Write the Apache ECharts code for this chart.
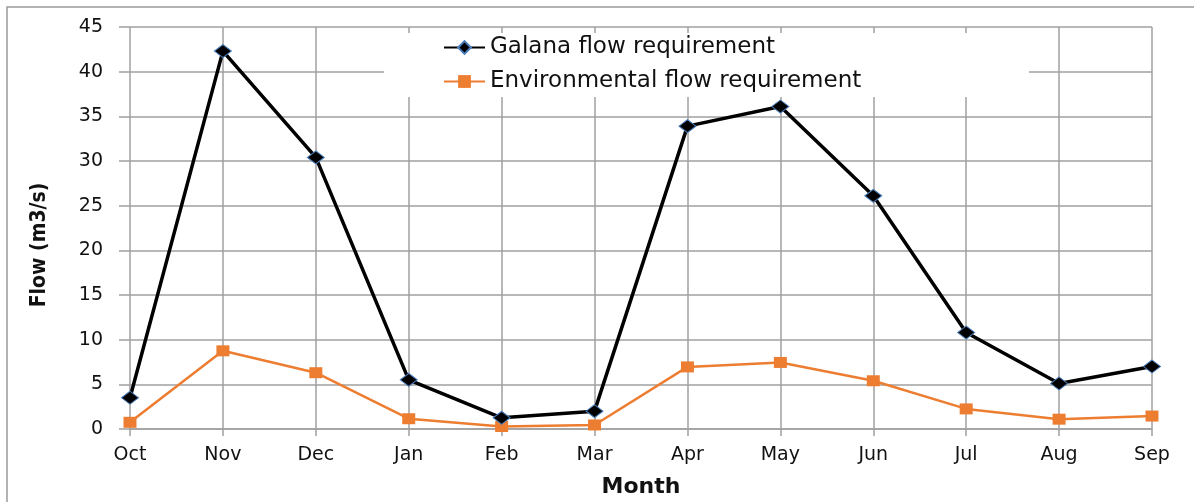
<!DOCTYPE html>
<html>
<head>
<meta charset="utf-8">
<script src="https://cdn.jsdelivr.net/npm/echarts@6/dist/echarts.min.js"></script>
<style>
  html, body { margin: 0; padding: 0; background: #fff; }
  #chart { width: 1194px; height: 502px; }
</style>
</head>
<body>
<div id="chart"></div>
<script>
 // 数据
 var months = ['Oct','Nov','Dec','Jan','Feb','Mar','Apr','May','Jun','Jul','Aug','Sep'];
 var galanaFlow = [3.5,42.3,30.4,5.5,1.25,2.0,33.9,36.1,26.1,10.8,5.1,7.0];
 var envFlow = [0.75,8.75,6.3,1.15,0.28,0.45,6.95,7.45,5.4,2.25,1.1,1.45];
 var yTicks = [0,5,10,15,20,25,30,35,40,45];

 var myCharts = echarts.init(document.getElementById('chart'));
 var option = {
     backgroundColor:'#fff',
     animation:false,
     graphic:[
         // 外框
         {type:'polyline', z:0, silent:true,
          shape:{points:[[7,502],[7,7],[1194,7]]},
          style:{stroke:'#9a9a9a', lineWidth:1.5, fill:null}},
         // 图例背景遮住网格线
         {type:'rect', z:1, silent:true,
          shape:{x:384, y:33, width:645, height:64},
          style:{fill:'#fff'}}
     ],
     grid:{left:130, right:42, top:27, bottom:73, outerBoundsMode:'none', containLabel:false},
     legend:{
         orient:'vertical',
         left:438, top:31,
         itemWidth:41, itemHeight:16,
         itemGap:11,
         z:5,
         textStyle:{fontFamily:'DejaVu Sans', fontSize:23, color:'#111'},
         data:['Galana flow requirement','Environmental flow requirement']
     },
     xAxis:{
         type:'category',
         boundaryGap:false,
         data:months,
         name:'Month',
         nameLocation:'middle',
         nameGap:47,
         nameTextStyle:{fontFamily:'DejaVu Sans', fontWeight:'bold', fontSize:22, color:'#111'},
         axisLine:{show:true, lineStyle:{color:'#a0a0a0', width:1.5}},
         axisTick:{show:true, alignWithLabel:true, length:7, lineStyle:{color:'#a0a0a0', width:1.5}},
         axisLabel:{fontFamily:'DejaVu Sans', fontSize:19, color:'#111', margin:17},
         splitLine:{show:true, lineStyle:{color:'#a0a0a0', width:1.5}}
     },
     yAxis:{
         type:'value',
         min:yTicks[0], max:yTicks[yTicks.length-1], interval:5,
         name:'Flow (m3/s)',
         nameLocation:'middle',
         nameGap:80,
         nameTextStyle:{fontFamily:'DejaVu Sans Condensed, Liberation Sans, sans-serif', fontWeight:'bold', fontSize:21, color:'#111', padding:[0,34,0,0]},
         axisLine:{show:false},
         axisTick:{show:true, length:11, lineStyle:{color:'#a0a0a0', width:1.5}},
         axisLabel:{fontFamily:'DejaVu Sans', fontSize:19, color:'#111', margin:27},
         splitLine:{show:true, lineStyle:{color:'#a0a0a0', width:1.5}}
     },
     series:[
         {
             name:'Galana flow requirement',
             type:'line',
             data:galanaFlow,
             symbol:'diamond',
             symbolSize:[17,13],
             z:4,
             lineStyle:{color:'#000', width:3.5},
             itemStyle:{color:'#000', borderColor:'#4a7ebb', borderWidth:1}
         },
         {
             name:'Environmental flow requirement',
             type:'line',
             data:envFlow,
             symbol:'rect',
             symbolSize:[13,11],
             z:3,
             lineStyle:{color:'#ed7d31', width:2.5},
             itemStyle:{color:'#ed7d31'}
         }
     ]
 };
 myCharts.setOption(option);
</script>
</body>
</html>
